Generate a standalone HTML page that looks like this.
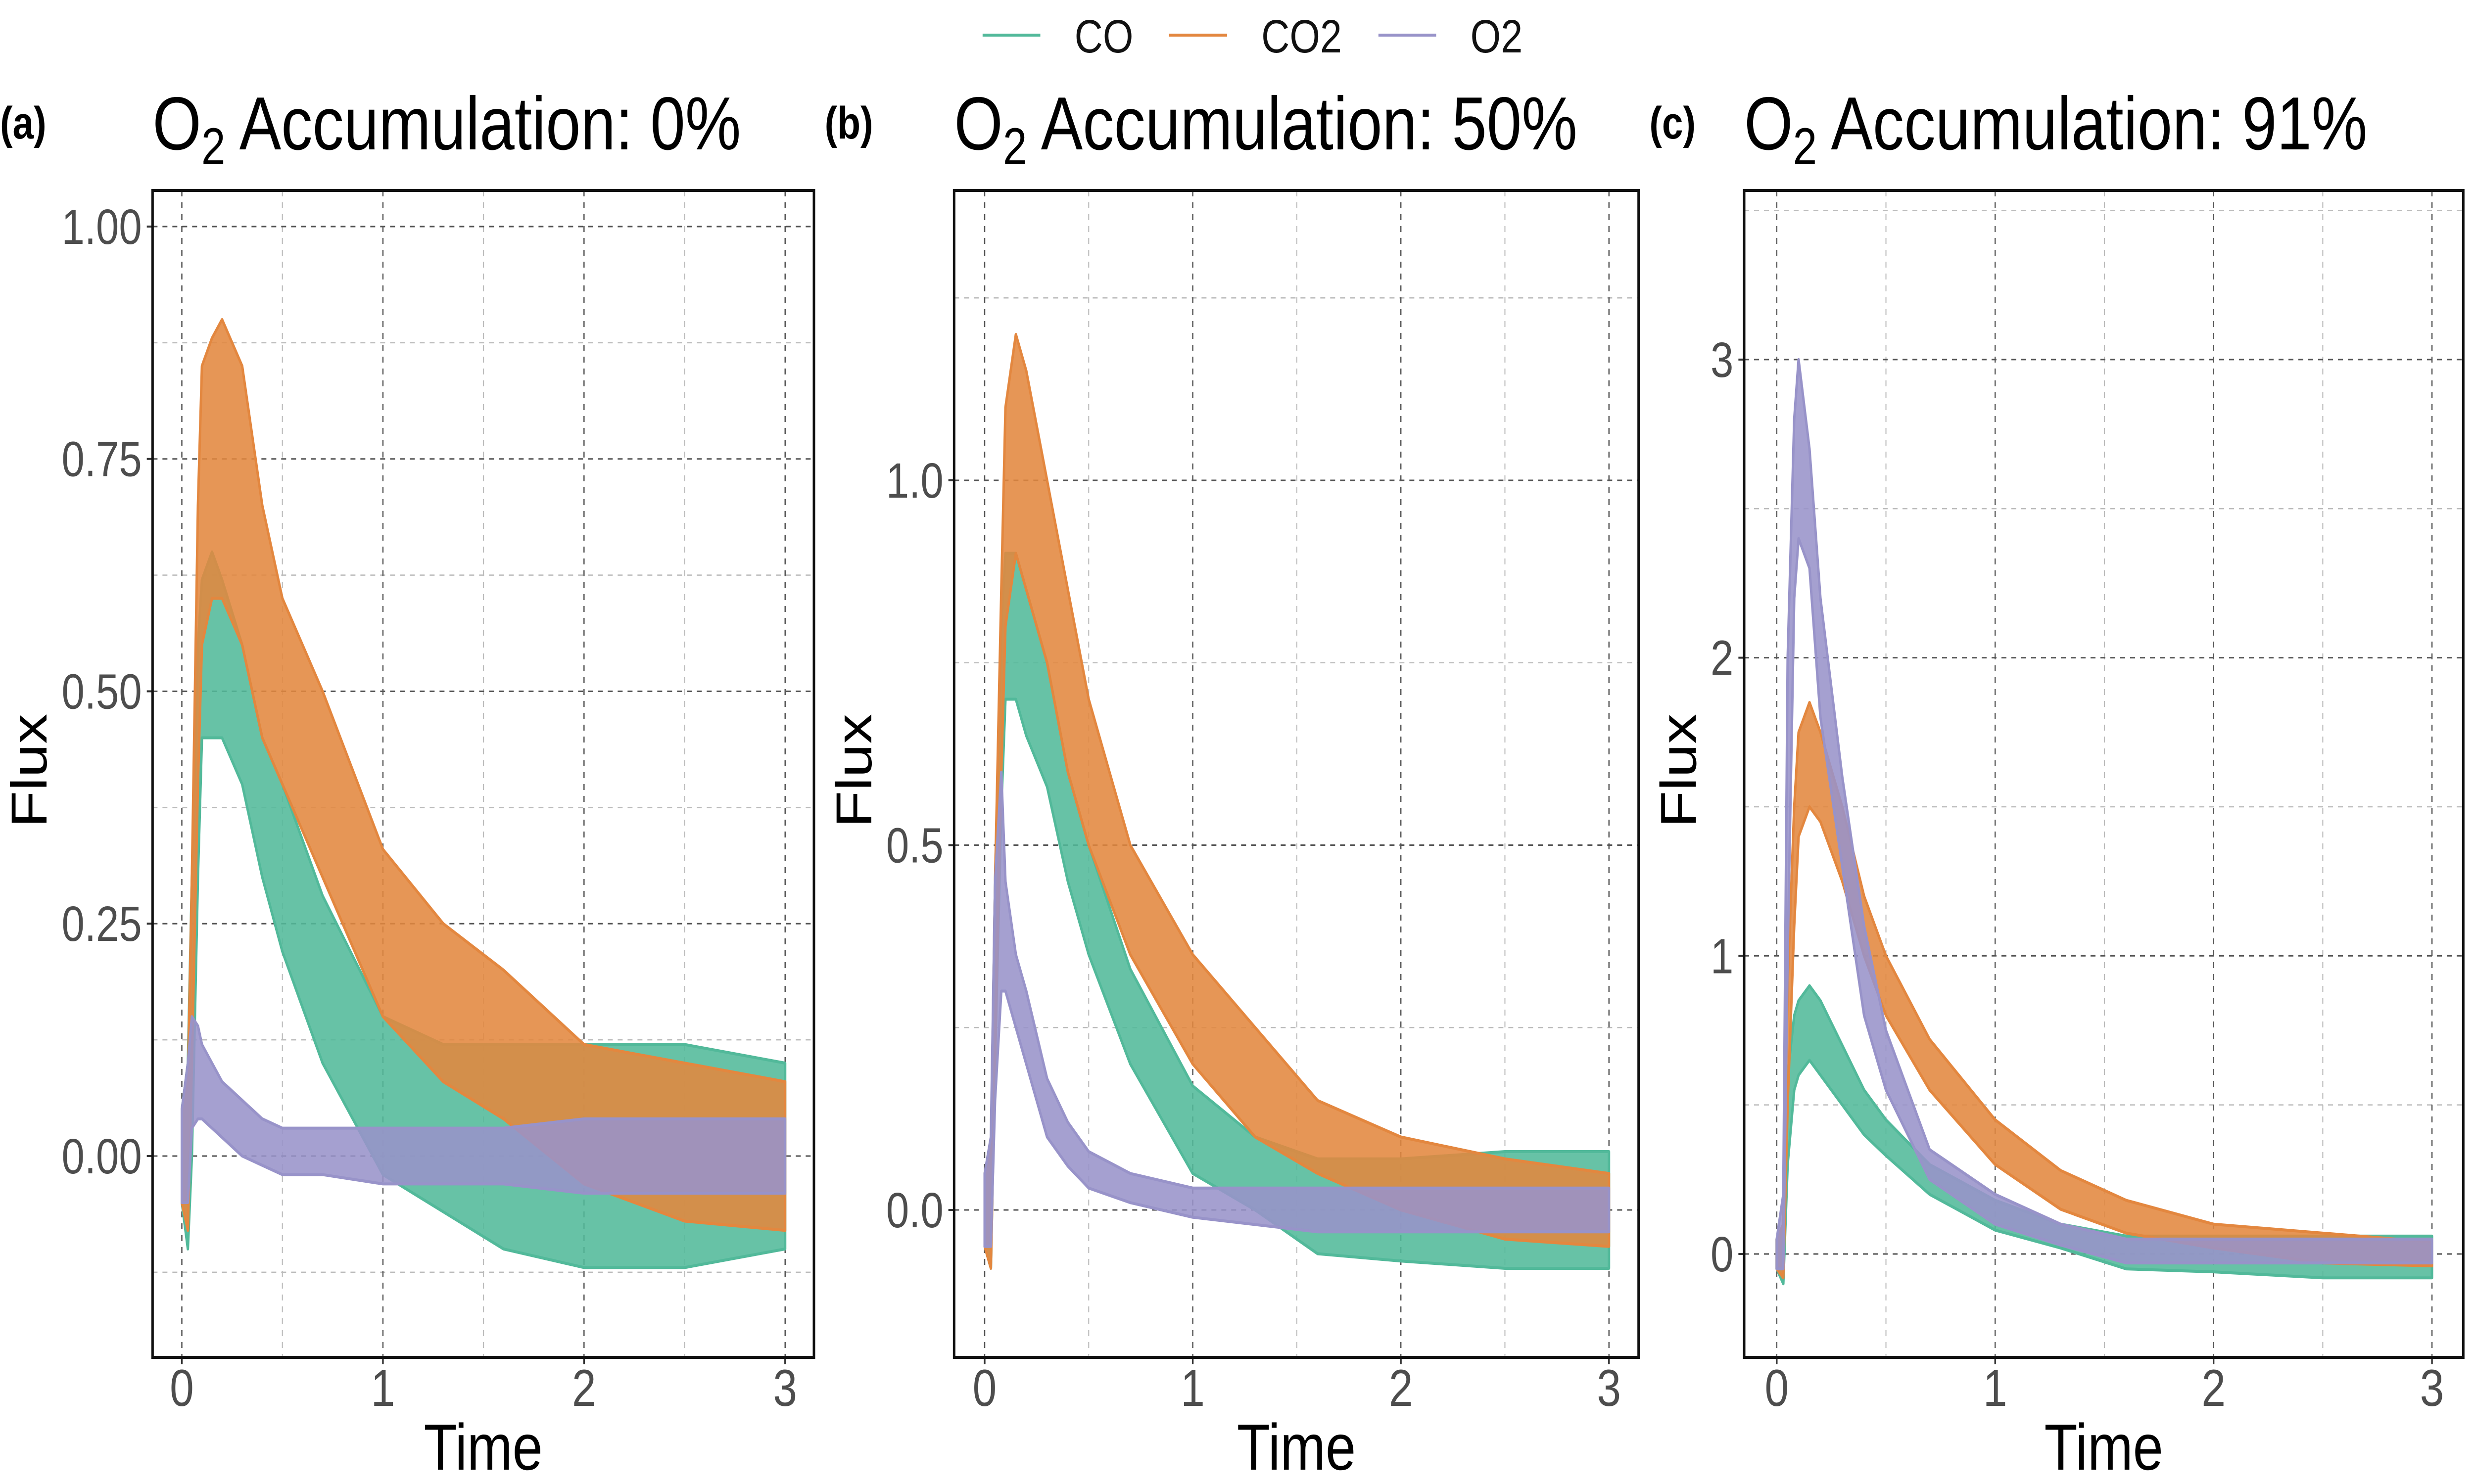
<!DOCTYPE html>
<html><head><meta charset="utf-8"><style>
html,body{margin:0;padding:0;background:#fff;overflow:hidden;width:100%;height:100%}
svg{display:block;font-family:"Liberation Sans",sans-serif;width:100vw;height:100vh}
</style></head><body>
<svg id="chart" viewBox="0 0 6000 3000" preserveAspectRatio="none" xmlns="http://www.w3.org/2000/svg">
<rect width="6000" height="3000" fill="#fff"/>
<g>
 <g><line x1="2383" y1="71" x2="2523" y2="71" stroke="#52b99a" stroke-width="6"/><text x="2606" y="106" font-size="95" fill="#111">CO</text></g>
 <g><line x1="2835" y1="71" x2="2976" y2="71" stroke="#e3873f" stroke-width="6"/><text x="3059" y="106" font-size="95" fill="#111">CO2</text></g>
 <g><line x1="3343" y1="71" x2="3483" y2="71" stroke="#9893c9" stroke-width="6"/><text x="3566" y="106" font-size="95" fill="#111">O2</text></g>
</g>
</svg>
<script>
const times = [0,0.03,0.05,0.08,0.1,0.15,0.2,0.3,0.4,0.5,0.7,1.0,1.3,1.6,2.0,2.5,3.0];
const seriesNames = ["CO","CO2","O2"];
const panelLabels = ["(a)","(b)","(c)"];
const panelPercents = ["0%","50%","91%"];
const xTicks = [0,1,2,3];
const xTickLabels = ["0","1","2","3"];
const yTicksA = [0,0.25,0.5,0.75,1.0];
const yTickLabelsA = ["0.00","0.25","0.50","0.75","1.00"];
const yTicksB = [0,0.5,1.0];
const yTickLabelsB = ["0.0","0.5","1.0"];
const yTicksC = [0,1,2,3];
const yTickLabelsC = ["0","1","2","3"];
// panel a
const aCOlo  = [-0.05,-0.1,0.0,0.3,0.45,0.45,0.45,0.4,0.3,0.22,0.1,-0.02,-0.06,-0.1,-0.12,-0.12,-0.1];
const aCOhi  = [0.05,0.1,0.3,0.55,0.62,0.65,0.62,0.55,0.45,0.4,0.28,0.15,0.12,0.12,0.12,0.12,0.1];
const aCO2lo = [-0.05,-0.08,0.1,0.4,0.55,0.6,0.6,0.55,0.45,0.4,0.3,0.15,0.08,0.04,-0.03,-0.07,-0.08];
const aCO2hi = [0.05,0.08,0.3,0.7,0.85,0.88,0.9,0.85,0.7,0.6,0.5,0.33,0.25,0.2,0.12,0.1,0.08];
const aO2lo  = [-0.05,-0.05,0.03,0.04,0.04,0.03,0.02,0.0,-0.01,-0.02,-0.02,-0.03,-0.03,-0.03,-0.04,-0.04,-0.04];
const aO2hi  = [0.05,0.1,0.15,0.14,0.12,0.1,0.08,0.06,0.04,0.03,0.03,0.03,0.03,0.03,0.04,0.04,0.04];
// panel b
const bCOlo  = [-0.05,-0.08,0.2,0.55,0.7,0.7,0.65,0.58,0.45,0.35,0.2,0.05,0.0,-0.06,-0.07,-0.08,-0.08];
const bCOhi  = [0.05,0.08,0.45,0.8,0.9,0.9,0.85,0.75,0.6,0.5,0.33,0.17,0.1,0.07,0.07,0.08,0.08];
const bCO2lo = [-0.05,-0.08,0.2,0.6,0.8,0.9,0.85,0.75,0.6,0.5,0.35,0.2,0.1,0.05,0.0,-0.04,-0.05];
const bCO2hi = [0.05,0.08,0.45,0.85,1.1,1.2,1.15,1.0,0.85,0.7,0.5,0.35,0.25,0.15,0.1,0.07,0.05];
const bO2lo  = [-0.05,-0.05,0.15,0.3,0.3,0.25,0.2,0.1,0.06,0.03,0.01,-0.01,-0.02,-0.03,-0.03,-0.03,-0.03];
const bO2hi  = [0.05,0.1,0.45,0.6,0.45,0.35,0.3,0.18,0.12,0.08,0.05,0.03,0.03,0.03,0.03,0.03,0.03];
// panel c
const cCOlo  = [-0.05,-0.1,0.3,0.55,0.6,0.65,0.6,0.5,0.4,0.33,0.2,0.08,0.02,-0.05,-0.06,-0.08,-0.08];
const cCOhi  = [0.05,0.1,0.6,0.8,0.85,0.9,0.85,0.7,0.55,0.45,0.3,0.18,0.1,0.06,0.06,0.06,0.06];
const cCO2lo = [-0.05,-0.08,0.5,1.1,1.4,1.5,1.45,1.25,1.0,0.8,0.55,0.3,0.15,0.07,0.02,-0.03,-0.04];
const cCO2hi = [0.05,0.1,0.9,1.5,1.75,1.85,1.75,1.5,1.2,1.0,0.72,0.45,0.28,0.18,0.1,0.07,0.04];
const cO2lo  = [-0.05,-0.05,1.0,2.2,2.4,2.3,1.8,1.3,0.8,0.55,0.25,0.1,0.03,-0.03,-0.03,-0.03,-0.03];
const cO2hi  = [0.05,0.2,2.0,2.8,3.0,2.7,2.2,1.6,1.1,0.75,0.35,0.2,0.1,0.05,0.05,0.05,0.05];

const NS="http://www.w3.org/2000/svg";
const svg=document.getElementById('chart');
function mk(tag,attrs,parent){const e=document.createElementNS(NS,tag);for(const k in attrs)e.setAttribute(k,attrs[k]);(parent||svg).appendChild(e);return e;}
const colors=["#52b99a","#e3873f","#9893c9"];

const panels=[
 {off:0,left:370,right:1974,top:385,bottom:2744,x0:441,xu:487.7,y0:2337,yu:1879,yt:yTicksA,yl:yTickLabelsA,ymin:[-0.125,0.125,0.375,0.625,0.875],data:[[aCOlo,aCOhi],[aCO2lo,aCO2hi],[aO2lo,aO2hi]]},
 {off:2000,left:2314,right:3974,top:385,bottom:2744,x0:2388,xu:504.7,y0:2446,yu:1475,yt:yTicksB,yl:yTickLabelsB,ymin:[0.25,0.75,1.25],data:[[bCOlo,bCOhi],[bCO2lo,bCO2hi],[bO2lo,bO2hi]]},
 {off:4000,left:4230,right:5974,top:385,bottom:2744,x0:4309,xu:529.7,y0:2535,yu:602.7,yt:yTicksC,yl:yTickLabelsC,ymin:[0.5,1.5,2.5,3.5],data:[[cCOlo,cCOhi],[cCO2lo,cCO2hi],[cO2lo,cO2hi]]}
];
panels.forEach((p,pi)=>{
 const X=v=>p.x0+v*p.xu, Y=v=>p.y0-v*p.yu;
 const g=mk('g',{});
 
 
 const clipId='clip'+pi;
 const cp=mk('clipPath',{id:clipId},g);mk('rect',{x:p.left,y:p.top,width:p.right-p.left,height:p.bottom-p.top},cp);
 [0.5,1.5,2.5].forEach(v=>{const l=mk('line',{x1:X(v),x2:X(v),y1:p.top,y2:p.bottom,stroke:'#bbb','stroke-width':2.5,'stroke-dasharray':'12 12'},g);
  });
 p.ymin.forEach(v=>{if(Y(v)<p.top||Y(v)>p.bottom)return;const l=mk('line',{x1:p.left,x2:p.right,y1:Y(v),y2:Y(v),stroke:'#bbb','stroke-width':2.5,'stroke-dasharray':'12 12'},g);
  });
 xTicks.forEach((v,i)=>{const l=mk('line',{x1:X(v),x2:X(v),y1:p.top,y2:p.bottom,stroke:'#555','stroke-width':3,'stroke-dasharray':'12 12'},g);
  
  mk('line',{x1:X(v),x2:X(v),y1:p.bottom,y2:p.bottom+14,stroke:'#333','stroke-width':4},g);
  const t=mk('text',{x:X(v),y:2842,'font-size':105,fill:'#4d4d4d','text-anchor':'middle'},g);t.textContent=xTickLabels[i];
  });
 p.yt.forEach((v,i)=>{const l=mk('line',{x1:p.left,x2:p.right,y1:Y(v),y2:Y(v),stroke:'#555','stroke-width':3,'stroke-dasharray':'12 12'},g);
  
  mk('line',{x1:p.left-14,x2:p.left,y1:Y(v),y2:Y(v),stroke:'#333','stroke-width':4},g);
  const t=mk('text',{x:p.left-26,y:Y(v)+35,'font-size':100,fill:'#4d4d4d','text-anchor':'end'},g);t.textContent=p.yl[i];
  });
 const sg=mk('g',{'clip-path':'url(#'+clipId+')'},g);
 p.data.forEach((d,si)=>{
  const lo=d[0],hi=d[1];
  let pts=times.map((t,i)=>X(t)+','+Y(hi[i]));
  for(let i=times.length-1;i>=0;i--)pts.push(X(times[i])+','+Y(lo[i]));
  const poly=mk('polygon',{points:pts.join(' '),fill:colors[si],'fill-opacity':0.88,stroke:colors[si],'stroke-width':6,'stroke-linejoin':'round'},sg);
  
  
 });
 const box=mk('rect',{x:p.left,y:p.top,width:p.right-p.left,height:p.bottom-p.top,fill:'none',stroke:'#111','stroke-width':6},g);
 
 const lab=mk('text',{x:p.off,y:280,'font-size':92,'font-weight':'bold',fill:'#000'},g);lab.textContent=panelLabels[pi];
 
 const tt=mk('text',{x:p.left,y:302,'font-size':152,fill:'#000'},g);
 
 const s1=mk('tspan',{},tt);s1.textContent='O';
 const s2=mk('tspan',{'font-size':105,dy:30},tt);s2.textContent='2';
 const s3=mk('tspan',{dy:-30},tt);s3.textContent=' Accumulation: '+panelPercents[pi];
 const yl=mk('text',{x:0,y:0,'font-size':122,fill:'#000','text-anchor':'middle',transform:'translate('+(p.off+113)+',1558) rotate(-90)'},g);yl.textContent='Flux';
 
 const xl=mk('text',{x:(p.left+p.right)/2,y:2971,'font-size':132,fill:'#000','text-anchor':'middle'},g);xl.textContent='Time';
 
});
</script>
</body></html>
